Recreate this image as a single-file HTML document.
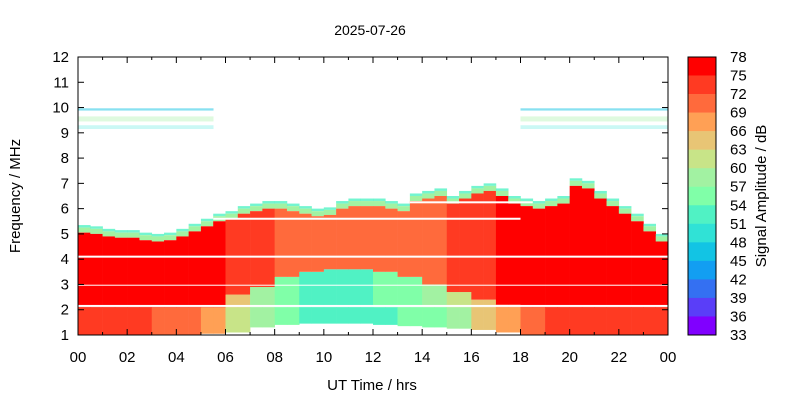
<!DOCTYPE html>
<html><head><meta charset="utf-8"><style>
html,body{margin:0;padding:0;background:#fff;width:800px;height:400px;overflow:hidden}
text{font-family:"Liberation Sans",sans-serif;fill:#000}
</style></head><body>
<svg id="chart" width="800" height="400" viewBox="0 0 800 400" xmlns="http://www.w3.org/2000/svg">
<rect width="800" height="400" fill="#fff"/>
<text x="370" y="35" font-size="14" text-anchor="middle">2025-07-26</text>
<g id="heat"></g>
<g id="axes"></g>
<g id="cbar"></g>
<text x="0" y="0" font-size="15" text-anchor="middle" transform="translate(20,196) rotate(-90)">Frequency / MHz</text>
<text x="372" y="390" font-size="15" text-anchor="middle">UT Time / hrs</text>
<text x="0" y="0" font-size="15" text-anchor="middle" transform="translate(766,196) rotate(-90)">Signal Amplitude / dB</text>
</svg>
<script>
// ---- data ----
const redTop = [5.05,5.0,4.9,4.85,4.85,4.75,4.7,4.75,4.9,5.1,5.3,5.5,5.6,5.8,5.9,6.0,6.0,5.9,5.8,5.7,5.75,6.0,6.1,6.1,6.1,6.0,5.9,6.3,6.4,6.5,6.2,6.4,6.6,6.7,6.5,6.2,6.1,6.0,6.1,6.2,6.9,6.8,6.4,6.1,5.8,5.5,5.1,4.7];
const holeTop = [2.1,2.1,2.1,2.1,2.1,2.1,2.6,2.9,3.3,3.5,3.6,3.6,3.5,3.3,3.0,2.7,2.4,2.2,2.1,2.1,2.1,2.1,2.1,2.1,2.1];
const midLevel = [76,76,76,76,76,74,66,58,55,54,54,54,55,57,60,63,66,70,75,77,77,77,77,77,77];
const upperLevel = [76,76,76,76,76,76,75,73,71,70,70,70,71,71,72,73,75,76,77,77,77,77,77,77,77];
const lowLevel = [73,73,73,72,70,67,63,58,55,53,52,52,53,55,57,60,64,68,72,74,75,75,75,75,75];
const lowFloor = [1,1,1,1,1,1.05,1.1,1.3,1.4,1.45,1.45,1.45,1.4,1.35,1.3,1.25,1.2,1.1,1,1,1,1,1,1,1];
const gapFreqs = [4.1,2.95,2.15];
const cbTicks = [78,75,72,69,66,63,60,57,54,51,48,45,42,39,36,33];
const cbColors = ['#ff0000','#ff3a22','#ff6a3c','#ffa055','#e8c575','#c8e488','#a2f2a2','#80ffa8','#50f2c4','#30e2d6','#12c4e4','#129ef2','#3470f2','#5a3ef8','#8000ff'];
const xTicks = ['00','02','04','06','08','10','12','14','16','18','20','22','00'];
const yTicks = [1,2,3,4,5,6,7,8,9,10,11,12];
// ---- axes functions ----
const X0=78,X1=668,Y0=335,Y1=57;
const xs = h => X0 + (X1-X0)*h/24;
const ys = f => Y0 - (Y0-Y1)*(f-1)/11;
const col = v => { let i = Math.floor((78 - v)/3); i=Math.max(0,Math.min(14,i)); return cbColors[i]; };
const NS='http://www.w3.org/2000/svg';
function mk(tag,attrs,parent){const e=document.createElementNS(NS,tag);for(const k in attrs)e.setAttribute(k,attrs[k]);parent.appendChild(e);return e;}
const heat=document.getElementById('heat');
function band(h0,h1,f0,f1,v,op){
  if(f1<=f0)return;
  const r=mk('rect',{x:xs(h0),y:ys(f1),width:xs(h1)-xs(h0)+0.3,height:ys(f0)-ys(f1),fill:col(v),opacity:op||1},heat);
  
  
}
// sparse echo rows
[[0,5.5],[18,24]].forEach(([a,b])=>{
  band(a,b,9.88,9.97,46,0.5);band(a,b,9.45,9.65,58,0.35);band(a,b,9.15,9.3,50,0.25);
});
for(let i=0;i<redTop.length;i++){
  const h0=i*0.5,h1=h0+0.5,hi=Math.floor(h0);
  const top=redTop[i];
  band(h0,h1,top+0.2,top+0.3,52,0.8);
  band(h0,h1,top,top+0.2,60);
  band(h0,h1,lowFloor[hi],2.1,lowLevel[hi]);
  band(h0,h1,2.1,Math.min(holeTop[hi],top),midLevel[hi]);
  band(h0,h1,holeTop[hi],top,upperLevel[hi]);
}
gapFreqs.forEach(f=>{const r=mk('rect',{x:X0,y:ys(f)-1,width:X1-X0,height:f===2.95?1:2,fill:'#fff'},heat);
});
[[5.5,18,5.6],[13.5,18.5,6.25]].forEach(([a,b,f])=>{const r=mk('rect',{x:xs(a),y:ys(f)-1,width:xs(b)-xs(a),height:2,fill:'#fff'},heat);
});
// axes
const ax=document.getElementById('axes');
mk('rect',{x:X0,y:Y1,width:X1-X0,height:Y0-Y1,fill:'none',stroke:'#000','stroke-width':1},ax);
for(let h=0;h<=24;h++){
  const L=h%2===0?6:3,x=xs(h);
  mk('line',{x1:x,y1:Y0,x2:x,y2:Y0-L,stroke:'#000'},ax);
  mk('line',{x1:x,y1:Y1,x2:x,y2:Y1+L,stroke:'#000'},ax);
}
xTicks.forEach((t,i)=>{const e=mk('text',{x:xs(i*2),y:362,'font-size':15,'text-anchor':'middle'},ax);e.textContent=t;
});
yTicks.forEach(f=>{const y=ys(f);
  mk('line',{x1:X0,y1:y,x2:X0+6,y2:y,stroke:'#000'},ax);
  mk('line',{x1:X1,y1:y,x2:X1-6,y2:y,stroke:'#000'},ax);
  const e=mk('text',{x:69,y:y+5,'font-size':15,'text-anchor':'end'},ax);e.textContent=f;
  });
// colorbar
const cb=document.getElementById('cbar');
const CX=688,CW=28,bh=(Y0-Y1)/15;
cbColors.forEach((c,i)=>{const r=mk('rect',{x:CX,y:Y1+i*bh,width:CW,height:bh+0.3,fill:c},cb);
});
mk('rect',{x:CX,y:Y1,width:CW,height:Y0-Y1,fill:'none',stroke:'#000'},cb);
cbTicks.forEach((t,i)=>{const e=mk('text',{x:730,y:Y1+i*bh+5,'font-size':15},cb);e.textContent=t;
});
</script>
</body></html>
